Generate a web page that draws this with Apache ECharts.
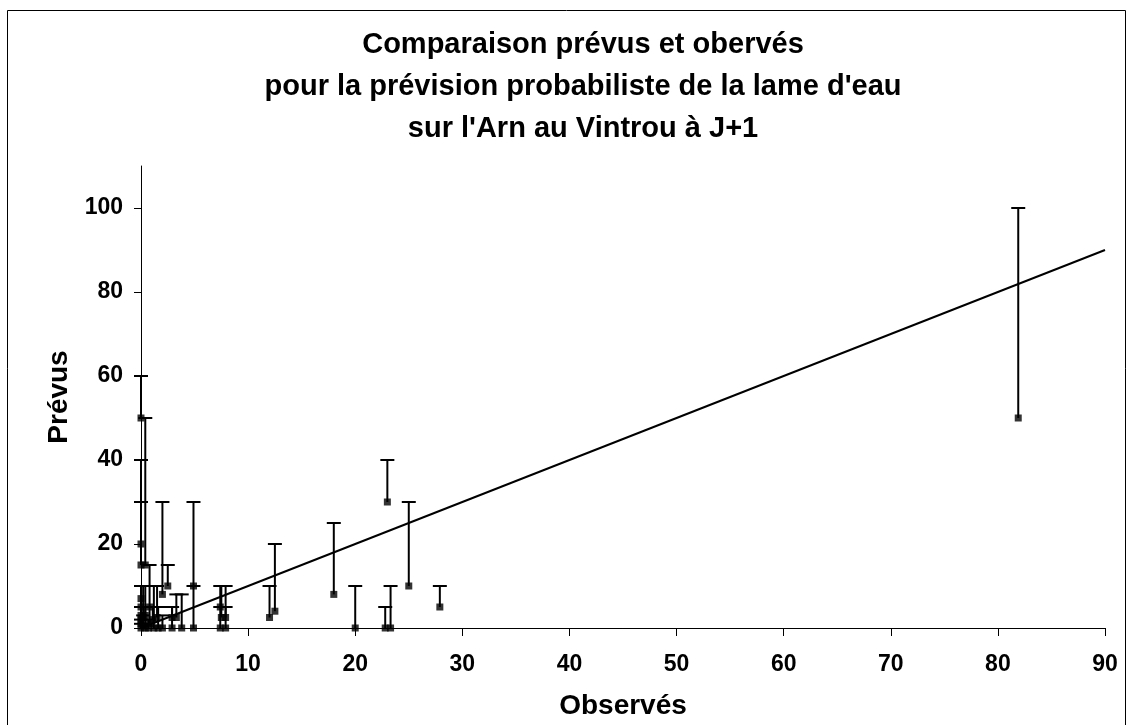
<!DOCTYPE html>
<html>
<head>
<meta charset="utf-8">
<script src="https://cdn.jsdelivr.net/npm/echarts@6/dist/echarts.min.js"></script>
<style>
  html, body { margin: 0; padding: 0; background: #fff; }
  #chart { width: 1129px; height: 725px; }
</style>
</head>
<body>
<div id="chart"></div>
<script>
// Observed rainfall (x), forecast median (y) and upper bound of the forecast range
const observes = [0, 0, 0, 0, 0, 0, 0, 0, 0, 0.2, 0.2,
  0.4, 0.4, 0.4, 0.8, 0.8, 0.7, 1.1, 1.2, 1.6, 1.5,
  2.0, 2.0, 2.5, 2.9, 2.9, 3.3, 3.8, 4.9, 4.9,
  7.4, 7.5, 7.4, 7.9, 7.9,
  12.0, 12.5, 18.0, 20.0, 22.8, 23.0, 23.3, 25.0, 27.9, 81.9];
const prevus = [50, 20, 15, 7, 5, 3, 2, 1, 0, 2.5, 0.5,
  15, 3, 0, 5, 1, 0, 2, 0, 0, 2.5,
  8, 0, 10, 2.5, 0, 2.5, 0, 10, 0,
  5, 2.5, 0, 2.5, 0,
  2.5, 4, 8, 0, 0, 30, 0, 10, 5, 50];
const prevusMax = [60, 40, 30, 10, 10, 5, 5, 2, 1, 10, 3,
  50, 10, 5, 15, 5, 2, 5, 10, 5, 10,
  30, 3, 15, 5, 5, 8, 8, 30, 10,
  10, 10, 5, 5, 10,
  10, 20, 25, 10, 5, 40, 10, 30, 10, 100];
// Reference line prévu = observé
const droite = [[0, 0], [90, 90]];
const xTicks = [0, 10, 20, 30, 40, 50, 60, 70, 80, 90];
const yTicks = [0, 20, 40, 60, 80, 100];

const titre = "Comparaison prévus et obervés\npour la prévision probabiliste de la lame d'eau\nsur l'Arn au Vintrou à J+1";
const FONT = "'Liberation Sans', Arial, sans-serif";

const points = observes.map((x, i) => [x, prevus[i]]);
const barres = observes.map((x, i) => [x, prevus[i], prevusMax[i]]);

function renderBarre(params, api) {
  const x = api.value(0);
  const p0 = api.coord([x, api.value(1)]);
  const p1 = api.coord([x, api.value(2)]);
  const hw = 7;
  return {
    type: 'group',
    children: [
      { type: 'line', shape: { x1: p0[0], y1: p0[1], x2: p1[0], y2: p1[1] },
        style: { stroke: '#000', lineWidth: 2 } },
      { type: 'line', shape: { x1: p1[0] - hw, y1: p1[1], x2: p1[0] + hw, y2: p1[1] },
        style: { stroke: '#000', lineWidth: 2 } }
    ]
  };
}

const chart = echarts.init(document.getElementById('chart'), null, { renderer: 'canvas' });
chart.setOption({
  animation: false,
  backgroundColor: '#fff',
  graphic: [
    { type: 'rect', shape: { x: 7.5, y: 10.5, width: 1118, height: 740 },
      style: { fill: 'none', stroke: '#000', lineWidth: 1 }, z: 0 },
    { type: 'text', x: 583, y: 87,
      style: { text: titre, textAlign: 'center', textVerticalAlign: 'middle',
        font: 'bold 29px ' + FONT, lineHeight: 42, fill: '#000' }, z: 10 }
  ],
  grid: { left: 141, right: 24, top: 166, bottom: 96, containLabel: false },
  xAxis: {
    type: 'value', min: 0, max: 90, interval: 10,
    name: 'Observés', nameLocation: 'middle', nameGap: 64,
    nameTextStyle: { fontFamily: FONT, fontWeight: 'bold', fontSize: 28, color: '#000' },
    axisLine: { onZero: false, lineStyle: { color: '#000', width: 1 } },
    axisTick: { show: true, inside: false, length: 8, lineStyle: { color: '#000' }, customValues: xTicks },
    axisLabel: { fontFamily: FONT, fontWeight: 'bold', fontSize: 23, color: '#000', margin: 25, customValues: xTicks },
    splitLine: { show: false }
  },
  yAxis: {
    type: 'value', min: 0, max: 110, interval: 20,
    name: 'Prévus', nameLocation: 'middle', nameGap: 64, nameRotate: 90,
    nameTextStyle: { fontFamily: FONT, fontWeight: 'bold', fontSize: 28, color: '#000' },
    axisLine: { show: true, onZero: false, lineStyle: { color: '#000', width: 1 } },
    axisTick: { show: true, inside: false, length: 7, lineStyle: { color: '#000' }, customValues: yTicks },
    axisLabel: { fontFamily: FONT, fontWeight: 'bold', fontSize: 23, color: '#000', margin: 18, customValues: yTicks },
    splitLine: { show: false }
  },
  series: [
    { type: 'custom', name: 'intervalle', renderItem: renderBarre, data: barres,
      encode: { x: 0, y: [1, 2] }, z: 2, silent: true },
    { type: 'line', name: 'droite', data: droite, showSymbol: false, symbol: 'none',
      lineStyle: { color: '#000', width: 2 }, z: 3, silent: true },
    { type: 'scatter', name: 'prévus', data: points, symbol: 'rect', symbolSize: 7,
      itemStyle: { color: '#000' }, z: 4, silent: true }
  ]
});
</script>
</body>
</html>
